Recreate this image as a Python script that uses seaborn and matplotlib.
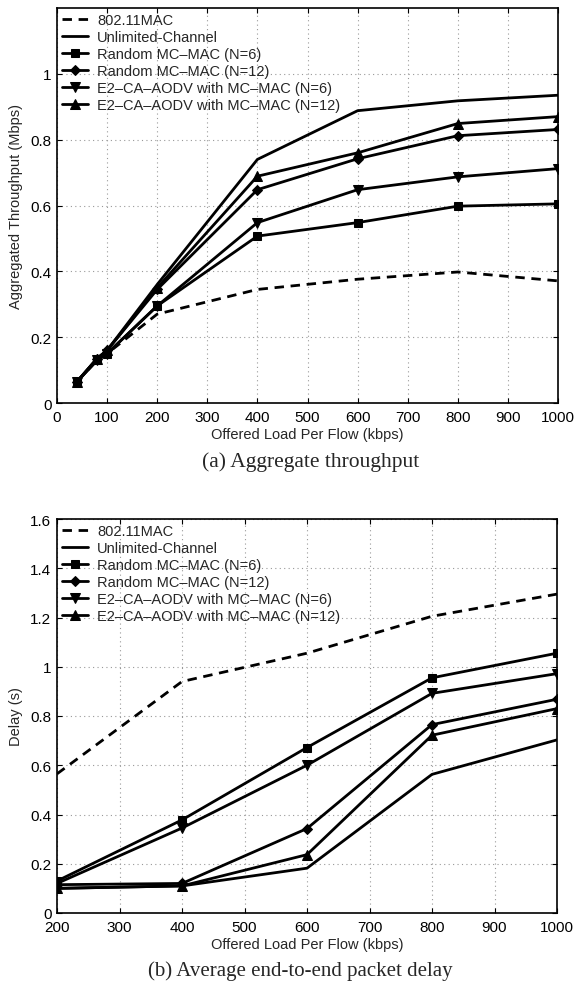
import matplotlib
matplotlib.use("Agg")
import matplotlib.pyplot as plt
import seaborn as sns
import pandas as pd

# ---------------- data ----------------
load_a = [40, 80, 100, 200, 400, 600, 800, 1000]
thr_80211 = [0.065, 0.13, 0.15, 0.27, 0.345, 0.376, 0.398, 0.371]
thr_unlimited = [0.065, 0.135, 0.16, 0.36, 0.74, 0.888, 0.918, 0.935]
thr_rand6 = [0.065, 0.13, 0.15, 0.295, 0.507, 0.548, 0.598, 0.605]
thr_rand12 = [0.065, 0.135, 0.16, 0.345, 0.648, 0.742, 0.812, 0.831]
thr_e2_6 = [0.065, 0.13, 0.15, 0.295, 0.548, 0.648, 0.687, 0.712]
thr_e2_12 = [0.065, 0.135, 0.16, 0.35, 0.689, 0.76, 0.849, 0.87]

load_b = [200, 400, 600, 800, 1000]
del_80211 = [0.565, 0.94, 1.055, 1.205, 1.295]
del_unlimited = [0.10, 0.11, 0.182, 0.563, 0.703]
del_rand6 = [0.13, 0.378, 0.672, 0.955, 1.055]
del_rand12 = [0.115, 0.12, 0.343, 0.765, 0.868]
del_e2_6 = [0.12, 0.345, 0.60, 0.892, 0.972]
del_e2_12 = [0.10, 0.11, 0.237, 0.722, 0.83]

labels = ["802.11MAC", "Unlimited-Channel", "Random MC\u2013MAC (N=6)",
          "Random MC\u2013MAC (N=12)", "E2\u2013CA\u2013AODV with MC\u2013MAC (N=6)",
          "E2\u2013CA\u2013AODV with MC\u2013MAC (N=12)"]
markers = [None, None, "s", "D", "v", "^"]
msizes = [0, 0, 5.5, 5.5, 7.5, 7.5]

xticks_a = [0, 100, 200, 300, 400, 500, 600, 700, 800, 900, 1000]
yticks_a = [0, 0.2, 0.4, 0.6, 0.8, 1.0]
ytick_labels_a = ["0", "0.2", "0.4", "0.6", "0.8", "1"]
xticks_b = [200, 300, 400, 500, 600, 700, 800, 900, 1000]
yticks_b = [0, 0.2, 0.4, 0.6, 0.8, 1.0, 1.2, 1.4, 1.6]
ytick_labels_b = ["0", "0.2", "0.4", "0.6", "0.8", "1", "1.2", "1.4", "1.6"]

# ---------------- style ----------------
sns.set_theme(style="white")
plt.rcParams["font.family"] = ["Liberation Sans", "DejaVu Sans"]
plt.rcParams["xtick.direction"] = "in"
plt.rcParams["ytick.direction"] = "in"

fig = plt.figure(figsize=(5.75, 9.87), dpi=100)
ax1 = fig.add_axes([57/575, 1 - 404/987, 501/575, 395/987])
ax2 = fig.add_axes([57/575, 1 - 914/987, 500/575, 394/987])

def draw(ax, x, series, xlim, ylim, xticks, yticks, yticklabels, ylabel):
    for i, (y, lab) in enumerate(zip(series, labels)):
        df = pd.DataFrame({"x": x, "y": y})
        kw = dict(color="black", linewidth=2.0, label=lab)
        if markers[i] is not None:
            kw.update(marker=markers[i], markersize=msizes[i],
                      markerfacecolor="black", markeredgecolor="black")
        if i == 0:
            kw.update(linestyle=(0, (3.4, 2.4)))
        sns.lineplot(data=df, x="x", y="y", ax=ax, **kw)
    ax.set_xlim(*xlim)
    ax.set_ylim(*ylim)
    ax.set_xticks(xticks)
    ax.set_xticklabels([str(t) for t in xticks])
    ax.set_yticks(yticks)
    ax.set_yticklabels(yticklabels)
    ax.grid(True, linestyle=(0, (1, 3)), color="#999999", linewidth=0.8)
    ax.tick_params(axis="both", which="both", direction="in", length=3.5,
                   width=0.8, labelsize=11, top=True, right=True,
                   bottom=True, left=True, colors="black")
    ax.tick_params(axis="x", pad=5)
    ax.tick_params(axis="y", pad=4)
    for sp in ax.spines.values():
        sp.set_color("black")
        sp.set_linewidth(1.2)
    ax.set_xlabel("Offered Load Per Flow (kbps)", fontsize=10.5, labelpad=2)
    ax.set_ylabel(ylabel, fontsize=10.5, labelpad=5)
    leg = ax.legend(loc="upper left", frameon=False, fontsize=10.5,
                    handlelength=1.8, handletextpad=0.6, labelspacing=0.2,
                    borderaxespad=0.2, borderpad=0.15)
    return leg

draw(ax1, load_a, [thr_80211, thr_unlimited, thr_rand6, thr_rand12, thr_e2_6, thr_e2_12],
     (0, 1000), (0, 1.2), xticks_a, yticks_a, ytick_labels_a,
     "Aggregated Throughput (Mbps)")
draw(ax2, load_b, [del_80211, del_unlimited, del_rand6, del_rand12, del_e2_6, del_e2_12],
     (200, 1000), (0, 1.6), xticks_b, yticks_b, ytick_labels_b, "Delay (s)")

fig.text(311/575, 1 - 462/987, "(a) Aggregate throughput", ha="center", va="center",
         fontsize=15.5, family=["Liberation Serif", "DejaVu Serif"])
fig.text(300/575, 1 - 971/987, "(b) Average end-to-end packet delay", ha="center",
         va="center", fontsize=15, family=["Liberation Serif", "DejaVu Serif"])

fig.savefig("out.png", dpi=100)
